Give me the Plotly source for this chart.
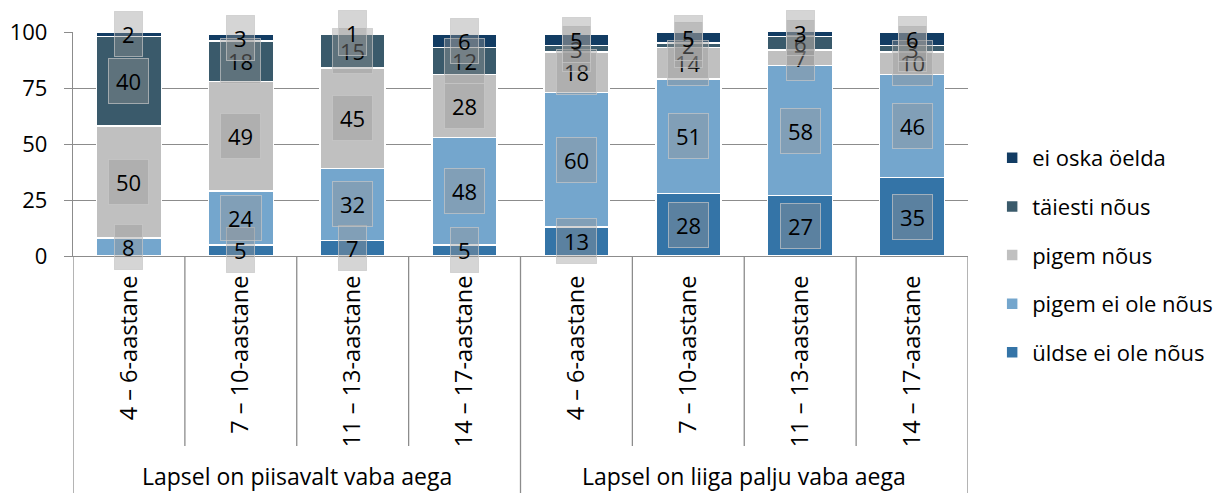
import plotly.graph_objects as go

age_labels = ["4 – 6-aastane", "7 – 10-aastane", "11 – 13-aastane", "14 – 17-aastane",
              "4 – 6-aastane", "7 – 10-aastane", "11 – 13-aastane", "14 – 17-aastane"]
group_labels = ["Lapsel on piisavalt vaba aega", "Lapsel on liiga palju vaba aega"]
series_names = ["üldse ei ole nõus", "pigem ei ole nõus", "pigem nõus", "täiesti nõus", "ei oska öelda"]

uldse_ei = [0, 5, 7, 5, 13, 28, 27, 35]
pigem_ei = [8, 24, 32, 48, 60, 51, 58, 46]
pigem_nous = [50, 49, 45, 28, 18, 14, 7, 10]
taiesti = [40, 18, 15, 12, 3, 2, 6, 3]
ei_oska = [2, 3, 1, 6, 5, 5, 3, 6]

series_values = [uldse_ei, pigem_ei, pigem_nous, taiesti, ei_oska]
colors = ["#3474a7", "#74a6cd", "#c0c0c0", "#3a5a6b", "#123c63"]

FONT = "Open Sans, sans-serif"
FS = 22
x = list(range(len(age_labels)))

fig = go.Figure()
n = len(series_names)
for k, (name, vals, col) in enumerate(zip(series_names, series_values, colors)):
    fig.add_trace(go.Bar(
        x=x, y=vals, name=name, legendgroup=name, legendrank=n - k,
        marker=dict(color=col, line=dict(color="white", width=1.5)),
        cliponaxis=False,
    ))

# data labels
annotations = []
for i in x:
    base = 0
    for vals in series_values:
        v = vals[i]
        if v > 0:
            annotations.append(dict(
                x=i, y=base + v / 2, xref="x", yref="y", text=str(v), showarrow=False,
                font=dict(family=FONT, size=FS, color="black"),
                bgcolor="rgba(150,150,150,0.40)", bordercolor="rgba(200,200,200,0.7)",
                borderwidth=1, borderpad=7,
            ))
        base += v

# group labels
for gi, g in enumerate(group_labels):
    annotations.append(dict(
        x=gi * 4 + 1.5, y=-220 / 224, xref="x", yref="paper", text=g, showarrow=False,
        font=dict(family=FONT, size=23, color="black"), yanchor="middle",
    ))

shapes = []
line_col = "#8c8c8c"
for k in range(1, 8):
    x0 = k - 0.5
    y1 = -240 / 224 if k == 4 else -190 / 224
    shapes.append(dict(type="line", xref="x", yref="paper", x0=x0, x1=x0, y0=0, y1=y1,
                       line=dict(color=line_col, width=1.3)))
for x0 in (-0.5, 7.5):
    shapes.append(dict(type="line", xref="x", yref="paper", x0=x0, x1=x0, y0=0, y1=-240 / 224,
                       line=dict(color=line_col, width=1.3)))

fig.update_layout(
    width=1217, height=485,
    barmode="stack", bargap=0.42,
    plot_bgcolor="white", paper_bgcolor="white",
    margin=dict(l=65, r=257, t=24, b=237, autoexpand=False),
    font=dict(family=FONT, size=FS, color="black"),
    annotations=annotations, shapes=shapes,
    showlegend=True,
    legend=dict(x=1.027, y=0.031, xanchor="left", yanchor="middle",
                traceorder="grouped", tracegroupgap=17, itemwidth=30,
                font=dict(family=FONT, size=FS, color="black")),
    xaxis=dict(range=[-0.5, 7.5], tickmode="array", tickvals=x, ticktext=age_labels,
               tickangle=-90, showgrid=False, showline=True, linecolor=line_col, linewidth=1.3,
               ticks="", zeroline=False, automargin=False, ticklabelstandoff=9,
               tickfont=dict(family=FONT, size=23.5)),
    yaxis=dict(range=[0, 100], tickvals=[0, 25, 50, 75, 100], showgrid=True,
               gridcolor=line_col, gridwidth=1, showline=True, linecolor=line_col,
               linewidth=1.3, ticks="outside", ticklen=8, tickcolor=line_col,
               ticklabelstandoff=12, automargin=False,
               zeroline=False, tickfont=dict(family=FONT, size=FS)),
)

fig.write_html("out.html")
